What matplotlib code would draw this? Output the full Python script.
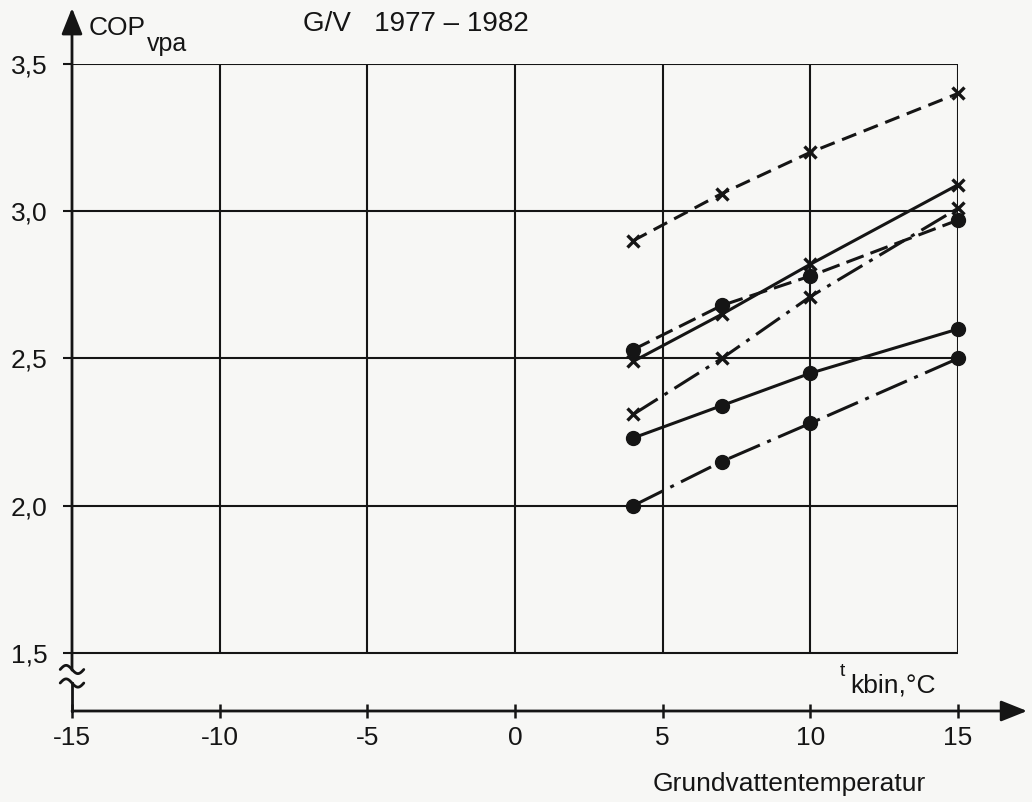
import matplotlib
matplotlib.use("Agg")
import matplotlib.pyplot as plt
import numpy as np

plt.rcParams['font.family'] = ['Liberation Sans', 'DejaVu Sans']

# ground water temperature, deg C
temps = [4, 7, 10, 15]

# COP values per curve
cop_dashed_x = [2.90, 3.06, 3.20, 3.40]
cop_solid_x = [2.49, 2.65, 2.82, 3.09]
cop_dashed_dot = [2.53, 2.68, 2.78, 2.97]
cop_dashdot_x = [2.31, 2.50, 2.71, 3.01]
cop_solid_dot = [2.23, 2.34, 2.45, 2.60]
cop_dashdot_dot = [2.00, 2.15, 2.28, 2.50]

x_ticks = [-15, -10, -5, 0, 5, 10, 15]
x_tick_labels = ["-15", "-10", "-5", "0", "5", "10", "15"]
y_ticks = [1.5, 2.0, 2.5, 3.0, 3.5]
y_tick_labels = ["1,5", "2,0", "2,5", "3,0", "3,5"]

W, H = 1032, 802
ink = '#151515'
paper = '#f7f7f5'

fig = plt.figure(figsize=(W / 100, H / 100), dpi=100, facecolor=paper)
ax = fig.add_axes([72 / W, (H - 711) / H, 886 / W, (711 - 64) / H])
ax.set_facecolor('none')
ax.set_xlim(-15, 15)
ax.set_ylim(1.303, 3.5)
for s in ax.spines.values():
    s.set_visible(False)

# grid box (only between 1.5 and 3.5)
ax.hlines(y_ticks, -15, 15, color=ink, lw=1.5, zorder=1)
ax.vlines(x_ticks[1:], 1.5, 3.5, color=ink, lw=1.5, zorder=1)

# axes with arrows
arrow = dict(arrowstyle='-|>,head_length=0.8,head_width=0.32', lw=2,
             color=ink, mutation_scale=20, shrinkA=0, shrinkB=0)
ax.annotate('', xy=(17.34, 1.303), xytext=(-15, 1.303), arrowprops=arrow,
            annotation_clip=False)
ax.annotate('', xy=(-15, 3.69), xytext=(-15, 1.442), arrowprops=arrow,
            annotation_clip=False)
ax.plot([-15, -15], [1.303, 1.398], color=ink, lw=2, clip_on=False)

# axis break marks
t = np.linspace(-1, 1, 40)
for yc in (1.444, 1.398):
    ax.plot(-15 + 0.4 * t, yc - 0.014 * np.sin(np.pi * t), color=ink,
            lw=2, clip_on=False, solid_capstyle='round')

ax.set_xticks(x_ticks, x_tick_labels)
ax.set_yticks(y_ticks, y_tick_labels)
ax.tick_params(axis='x', direction='inout', length=10, width=1.8, pad=6,
               labelsize=19, colors=ink)
ax.tick_params(axis='y', direction='out', length=6.5, width=1.5, pad=11,
               labelsize=19, colors=ink)

lw = 2.2
ax.plot(temps, cop_dashed_x, color=ink, lw=lw, dashes=(5, 2.6),
        marker='x', ms=9, mew=2.4, clip_on=False, zorder=3)
ax.plot(temps, cop_solid_x, color=ink, lw=lw, ls='-',
        marker='x', ms=9, mew=2.4, clip_on=False, zorder=3)
ax.plot(temps, cop_dashed_dot, color=ink, lw=lw, dashes=(6, 2.4),
        marker='o', ms=10, clip_on=False, zorder=3)
ax.plot(temps, cop_dashdot_x, color=ink, lw=lw, dashes=(9.5, 2.6, 1.3, 2.6),
        marker='x', ms=9, mew=2.4, clip_on=False, zorder=3)
ax.plot(temps, cop_solid_dot, color=ink, lw=lw, ls='-',
        marker='o', ms=10, clip_on=False, zorder=3)
ax.plot(temps, cop_dashdot_dot, color=ink, lw=lw, dashes=(11, 2.6, 1.3, 2.6),
        marker='o', ms=10, clip_on=False, zorder=3)

# texts
cop = fig.text(89 / W, 1 - 35 / H, "COP", fontsize=19, color=ink,
               va='baseline')
ax.annotate("vpa", xy=(1, 0), xycoords=cop, xytext=(1, -8),
            textcoords='offset points', fontsize=18, color=ink,
            va='baseline', ha='left')
fig.text(303 / W, 1 - 31 / H, "G/V   1977 – 1982", fontsize=20, color=ink,
         va='baseline')
fig.text(840 / W, 1 - 676 / H, "t", fontsize=14, color=ink, va='baseline')
fig.text(850 / W, 1 - 692 / H, "kbin,°C", fontsize=19, color=ink,
         va='baseline')
fig.text(653 / W, 1 - 791 / H, "Grundvattentemperatur", fontsize=19,
         color=ink, va='baseline')

fig.savefig("out.png", dpi=100, facecolor=paper)
